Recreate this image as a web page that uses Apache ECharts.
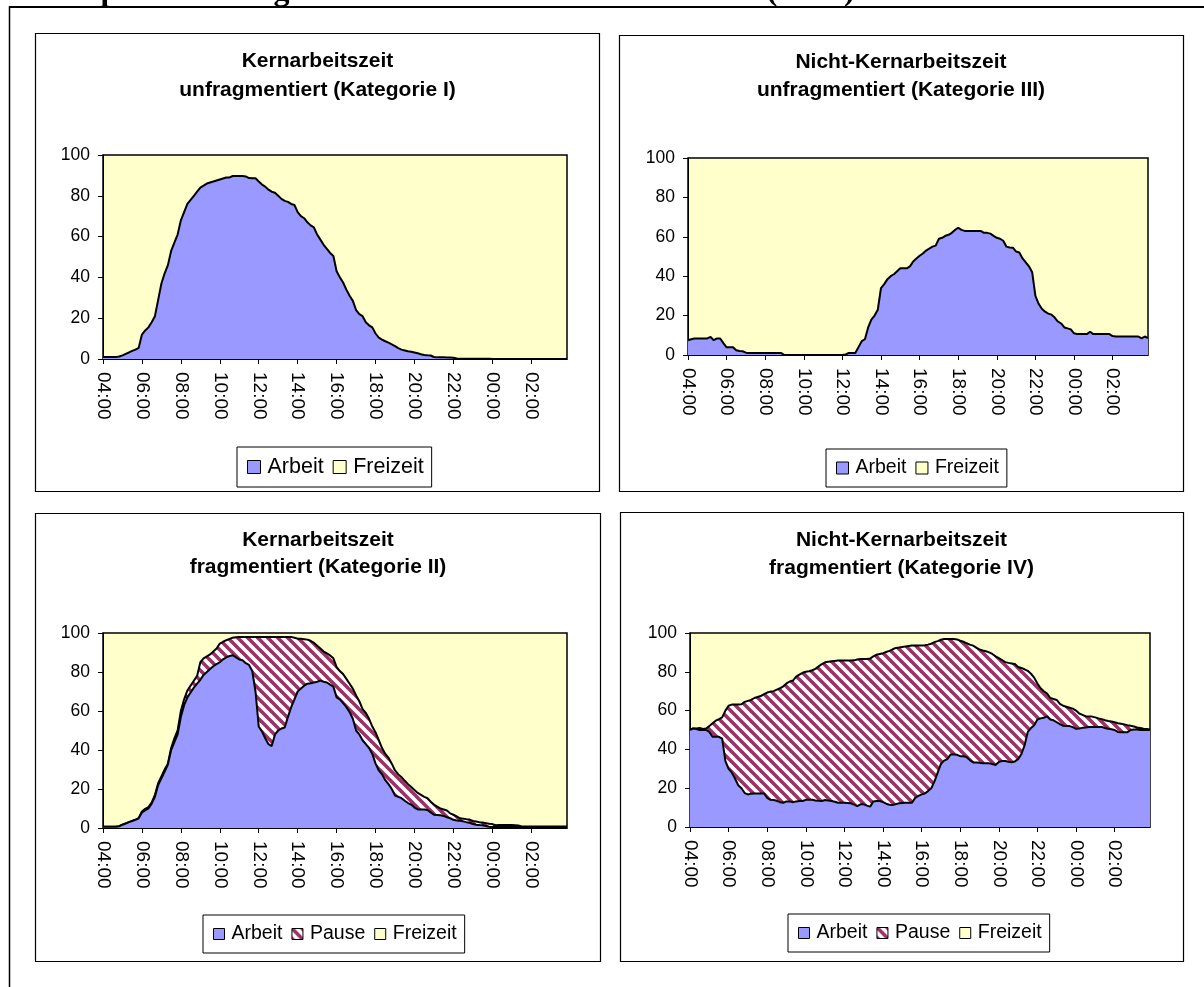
<!DOCTYPE html>
<html><head><meta charset="utf-8">
<script src="https://cdn.jsdelivr.net/npm/echarts@6/dist/echarts.min.js"></script>
<style>html,body{margin:0;padding:0;background:#fff}#c{width:1204px;height:987px}</style>
</head><body><div id="c"></div>
<script>
// ---------------- DATA (10-minute steps from 04:00 to 03:50) ----------------
const pageTitle = 'Partizipation im Tagesverlauf nach Arbeitszeitmustern (in %)';
const titleI   = ['Kernarbeitszeit', 'unfragmentiert (Kategorie I)'];
const titleIII = ['Nicht-Kernarbeitszeit', 'unfragmentiert (Kategorie III)'];
const titleII  = ['Kernarbeitszeit', 'fragmentiert (Kategorie II)'];
const titleIV  = ['Nicht-Kernarbeitszeit', 'fragmentiert (Kategorie IV)'];
const seriesNames = ['Arbeit', 'Pause', 'Freizeit'];
const yTicks = [0, 20, 40, 60, 80, 100];

const arbeitI = [
  1, 1, 1, 1, 1, 1.2, 1.8, 2.5, 3.2, 4, 4.6, 5.5,
  12, 14, 15.5, 18, 21, 29, 37, 42, 46, 53, 57, 61,
  68, 72, 76, 78, 80, 82, 84, 85, 86, 86.5, 87, 87.5,
  88, 88.5, 89, 89, 89.7, 89.7, 89.7, 89.7, 89.5, 88.7, 88.6, 88.6,
  87, 85.5, 84.5, 83, 82, 81.5, 80, 78.5, 77.5, 77, 76, 75.5,
  72, 70, 69, 67, 65.5, 64.5, 61, 58.5, 56, 54, 52, 50.5,
  43, 40, 37.5, 34, 31, 28.5, 24, 22, 21, 18, 16.5, 15.5,
  12.5, 10.5, 9.5, 8.7, 8, 7.2, 6.3, 5.3, 4.6, 4.2, 3.8, 3.6,
  3.2, 2.8, 2.3, 2, 1.8, 1.7, 1, 0.8, 0.8, 0.8, 0.7, 0.7,
  0.6, 0.2, 0.1, 0.1, 0.1, 0.1, 0.1, 0.1, 0.1, 0.1, 0.1, 0.1,
  0, 0, 0, 0, 0, 0, 0, 0, 0, 0, 0, 0,
  0, 0, 0, 0, 0, 0, 0, 0, 0, 0, 0, 0
];

const arbeitIII = [
  7.5, 8, 8.4, 8.4, 8.4, 8.4, 8.4, 9.2, 7.5, 8.4, 8.4, 6,
  3.9, 3.9, 3.9, 2.4, 2, 1.9, 1.2, 1, 1, 1, 1, 1,
  1, 1, 1, 1, 1, 1, 0, 0, 0, 0, 0, 0,
  0, 0, 0, 0, 0, 0, 0, 0, 0, 0, 0, 0,
  0, 0.3, 1, 1, 1, 4, 7, 8, 14, 18, 20, 23,
  34, 36, 38.5, 40, 41, 42.5, 44, 44, 44, 45, 47.5, 49,
  50.4, 51.5, 53, 54, 55, 55.5, 59, 59.5, 60.5, 61, 62, 63.5,
  64.6, 63.5, 63, 63, 63, 63, 63, 63, 62, 62, 61.6, 60.5,
  59.5, 59, 58, 55, 54.6, 54.5, 52.5, 52, 49, 47, 45, 42,
  30, 26, 23.5, 22, 21, 20.5, 19, 17, 16, 14, 13.5, 13,
  11, 10.6, 10.6, 10.6, 10.6, 11.8, 10.6, 10.6, 10.6, 10.6, 10.6, 10.6,
  9.6, 9.4, 9.4, 9.4, 9.4, 9.4, 9.4, 9.4, 9.4, 8.4, 9.4, 8.6
];

const arbeitII = [
  0.7, 0.7, 0.7, 0.7, 0.7, 0.9, 1.7, 2.3, 3, 3.6, 4.2, 5,
  8, 9, 10, 12.5, 16, 22, 25.5, 29, 32.5, 40, 44, 48,
  57, 63, 67, 69.5, 72, 74, 76, 78.5, 80, 81.5, 83, 84,
  85, 86.5, 87.5, 88.2, 88.6, 87.5, 86.4, 86, 84.5, 83.6, 80.5, 70,
  52, 49.5, 46, 43, 42, 48, 50, 51, 51.5, 57, 62, 66,
  70, 71.5, 73, 74, 74.2, 74.6, 75, 75.6, 75, 74.6, 73.5, 72.5,
  67, 66, 64, 62, 59.5, 56, 50, 48, 45, 43, 41, 38,
  33, 29.5, 27.5, 24.5, 22.5, 20, 16.6, 16, 15.3, 14, 12.8, 12,
  10.5, 9.5, 9.5, 9.5, 9.2, 8, 6.8, 6.7, 6.5, 6.2, 5.5, 5,
  4.2, 3.9, 3.7, 3.4, 3, 2.7, 2, 1.7, 1.5, 1.4, 1, 0.6,
  0.5, 0.5, 0.5, 0.5, 0.5, 0.5, 0.5, 0.5, 0.5, 0.5, 0.5, 0.5,
  0.5, 0.5, 0.5, 0.5, 0.5, 0.5, 0.5, 0.5, 0.5, 0.5, 0.5, 0.5
];

const pauseII = [
  0, 0, 0, 0, 0, 0, 0, 0, 0, 0, 0, 0,
  0.5, 0.8, 0.7, 0.5, 1, 1, 1, 1, 0.5, 1, 2, 2,
  3, 3, 3.5, 3.5, 3.5, 4, 9, 8.5, 8, 7.5, 7.5, 8,
  9.6, 9, 8.8, 8.8, 9, 10.3, 11.6, 12, 13.5, 14.4, 17.5, 28,
  46, 48.5, 52, 55, 56, 50, 48, 47, 46.5, 41, 36, 31.6,
  27.1, 25.5, 23.8, 22.6, 21.8, 20.4, 18.5, 16.4, 15.5, 14.9, 15, 14.5,
  15.5, 14.5, 15, 14.5, 14.5, 15.5, 18, 17, 16, 16, 15, 14,
  16, 15.5, 13.5, 13.5, 13.5, 13, 12.9, 11.5, 10.7, 10.2, 9.7, 9,
  9, 8.5, 7.5, 6.5, 6.1, 5.5, 5.2, 4.3, 3.5, 3.3, 3.5, 2.5,
  2.6, 2.1, 1.3, 1.4, 1.5, 1.6, 1.6, 1.6, 1.5, 1.4, 1.5, 1.6,
  1.5, 0.9, 1, 1, 1, 1, 1, 0.9, 0.8, 0.3, 0.3, 0.3,
  0.3, 0.3, 0.3, 0.3, 0.3, 0.3, 0.3, 0.3, 0.3, 0.3, 0.3, 0.3
];

const arbeitIV = [
  50, 50.8, 50.5, 50, 50, 50, 49, 46.5, 46.5, 46.5, 45.5, 34,
  30, 28, 25, 21.5, 20, 17.5, 16.8, 17.2, 17.3, 17.3, 17.3, 17.3,
  15, 14, 13.9, 13.5, 12.8, 12.5, 13.2, 13.2, 12.8, 13.2, 13.4, 13.4,
  14, 14, 14, 13.7, 13.5, 13.4, 13.9, 13.6, 13.4, 13, 12.5, 12.5,
  12.5, 12.4, 12.2, 11.5, 10.8, 11.7, 11.7, 11, 10.5, 13.2, 13.4, 13.4,
  12.8, 12, 11.5, 11.3, 11.8, 12.2, 12.4, 12.5, 12.5, 12.5, 15, 16,
  16.8, 17.3, 18.5, 20, 23.5, 28, 32.5, 34.2, 35, 37.4, 37.4, 37.2,
  36.5, 36.5, 36, 34.5, 33.3, 33.2, 33.1, 32.9, 32.8, 32.8, 32.5, 32,
  33.5, 34, 34, 33.6, 33.4, 33.8, 35, 37.5, 42, 49, 51, 52.5,
  55.4, 56, 56.3, 57, 55.4, 55, 54, 53, 52.2, 52, 52, 51.5,
  50.6, 50.8, 51.1, 51.3, 51.6, 51.6, 51.6, 51.6, 51.6, 51, 50.6, 50.4,
  50, 49, 48.9, 48.9, 48.9, 50, 50.3, 50.2, 50, 50, 50, 50
];

const pauseIV = [
  0.3, 0, 0.3, 1, 0.5, 0.8, 3, 7, 8.3, 9.1, 11, 26,
  32.5, 35.1, 38.1, 41.6, 43.3, 47, 48.2, 48.3, 49.2, 49.7, 50.2, 51.2,
  54.3, 55.8, 56.1, 57.3, 58.7, 60, 60.8, 61.8, 62.7, 64.3, 65.1, 66.1,
  66, 66.3, 66.8, 67.8, 69.3, 70.6, 71, 71.6, 72, 72.6, 73.3, 73.3,
  73.3, 73.4, 73.6, 74.4, 75.5, 74.9, 74.9, 75.6, 76.3, 74.8, 75.4, 75.8,
  76.8, 78.2, 79.3, 80.3, 80.5, 80.3, 80.4, 80.6, 80.8, 81, 78.5, 77.5,
  76.7, 76.4, 75.5, 74.5, 71.8, 67.8, 64, 62.7, 61.9, 59.5, 59.5, 59.5,
  59.5, 59, 58.7, 59.5, 60.2, 59.3, 58.4, 58.1, 57.8, 57.2, 56.7, 56,
  53.5, 52, 51, 51, 50.9, 50.2, 47.5, 44.5, 39.3, 31.5, 28, 24.5,
  18.6, 15.5, 13.7, 11.8, 11.1, 11, 11.5, 10.5, 10.3, 10, 9.5, 9.5,
  9.4, 7.7, 6.7, 5.8, 5.4, 5.3, 4.9, 4.4, 4, 4, 4, 4,
  4, 4.5, 4.3, 4, 3.6, 2.2, 1.5, 1.1, 1, 0.7, 0.5, 0.3
];

// category labels 04:00 ... 03:50 (10-minute steps); a label every 2 hours
const categories = [];
for (let m = 0; m < 144; m++) {
  const t = (240 + m * 10) % 1440;
  categories.push(String(Math.floor(t / 60)).padStart(2, '0') + ':' + String(t % 60).padStart(2, '0'));
}
const tickLabels = ['04:00', '06:00', '08:00', '10:00', '12:00', '14:00', '16:00', '18:00', '20:00', '22:00', '00:00', '02:00'];

// ---------------- STYLE ----------------
const COL_ARBEIT = '#9999FF';
const COL_FREI = '#FFFFCC';
const COL_PAUSE = '#993366';
const SANS = 'Arial, "Liberation Sans", sans-serif';

function stripeTile() {
  const c = document.createElement('canvas');
  c.width = 10; c.height = 10;
  const g = c.getContext('2d');
  g.fillStyle = '#ffffff'; g.fillRect(0, 0, 10, 10);
  g.strokeStyle = COL_PAUSE; g.lineWidth = 3.6;
  for (let k = -1; k <= 1; k++) {
    g.beginPath(); g.moveTo(-5, -5 + k * 10); g.lineTo(15, 15 + k * 10); g.stroke();
  }
  return c;
}
const pausePattern = { image: stripeTile(), repeat: 'repeat' };

const panels = [
  { box: [35.5, 33.5, 564, 458], grid: { left: 103, top: 155, width: 464, height: 204 }, cx: 317.5, ty: [61.7, 90.5],
    legend: { left: 237, top: 447, fs: 21.5, icon: 13, pad: [9, 8, 9, 10] }, title: titleI, arbeit: arbeitI, pause: null },
  { box: [619.5, 35.5, 564, 456], grid: { left: 688, top: 158, width: 460, height: 197 }, cx: 901, ty: [62.3, 90.6],
    legend: { left: 826, top: 449, fs: 19.5, icon: 12, pad: [9, 8, 9, 10] }, title: titleIII, arbeit: arbeitIII, pause: null },
  { box: [35.5, 513.5, 565, 448], grid: { left: 103, top: 633, width: 464, height: 195 }, cx: 318, ty: [540.5, 567.6],
    legend: { left: 203, top: 915, fs: 19.5, icon: 11, pad: [9, 8, 9, 10] }, title: titleII, arbeit: arbeitII, pause: pauseII },
  { box: [620.5, 512.5, 563, 449], grid: { left: 690, top: 633, width: 460, height: 194 }, cx: 901.5, ty: [540, 568],
    legend: { left: 788, top: 914, fs: 19.5, icon: 11, pad: [9, 8, 9, 10] }, title: titleIV, arbeit: arbeitIV, pause: pauseIV }
];

const option = {
  animation: false,
  backgroundColor: '#ffffff',
  grid: [], xAxis: [], yAxis: [], series: [], legend: [],
  graphic: [
    { type: 'text', x: 8, y: -7.8, style: { text: pageTitle, fontFamily: '"Times New Roman", "Liberation Serif", serif', fontWeight: 'bold', fontSize: 32, fill: '#000', align: 'left', verticalAlign: 'middle' } },
    { type: 'line', shape: { x1: 9, y1: 7, x2: 1204, y2: 7 }, style: { stroke: '#000', lineWidth: 2 } },
    { type: 'line', shape: { x1: 9.5, y1: 6, x2: 9.5, y2: 987 }, style: { stroke: '#000', lineWidth: 1.5 } }
  ]
};

panels.forEach((p, i) => {
  option.graphic.push({ type: 'rect', shape: { x: p.box[0], y: p.box[1], width: p.box[2], height: p.box[3] },
    style: { fill: 'none', stroke: '#000', lineWidth: 1.2 } });
  p.title.forEach((line, j) => {
    option.graphic.push({ type: 'text', x: p.cx, y: p.ty[j], style: { text: line, fontFamily: SANS, fontWeight: 'bold', fontSize: 21, fill: '#000', align: 'center', verticalAlign: 'middle' } });
  });
  option.grid.push(Object.assign({ show: true, backgroundColor: COL_FREI, borderColor: '#000', borderWidth: 1.5 }, p.grid));
  option.xAxis.push({
    type: 'category', gridIndex: i, data: categories, boundaryGap: false,
    axisLine: { lineStyle: { color: '#000', width: 1 } },
    axisTick: { length: 5, interval: (idx) => idx % 12 === 0, lineStyle: { color: '#000' } },
    axisLabel: { rotate: -90, margin: 13, interval: (idx, val) => tickLabels.indexOf(val) >= 0 && idx % 12 === 0,
      fontFamily: SANS, fontSize: 19, color: '#000' },
    splitLine: { show: false }
  });
  option.yAxis.push({
    type: 'value', gridIndex: i, min: yTicks[0], max: yTicks[yTicks.length - 1], interval: 20,
    axisLine: { show: true, lineStyle: { color: '#000', width: 1 } },
    axisTick: { show: true, length: 5, lineStyle: { color: '#000' } },
    axisLabel: { margin: 13, fontFamily: SANS, fontSize: 17.5, color: '#000' },
    splitLine: { show: false }
  });
  option.series.push({
    name: seriesNames[0], type: 'line', xAxisIndex: i, yAxisIndex: i, stack: 's' + i, z: 4,
    data: p.arbeit, symbol: 'none', showSymbol: false,
    lineStyle: { color: '#000', width: 2 }, itemStyle: { color: COL_ARBEIT },
    areaStyle: { color: COL_ARBEIT, opacity: 1 }
  });
  const legendData = [{ name: seriesNames[0], itemStyle: { color: COL_ARBEIT, borderColor: '#000', borderWidth: 1 } }];
  if (p.pause) {
    option.series.push({
      name: seriesNames[1], type: 'line', xAxisIndex: i, yAxisIndex: i, stack: 's' + i, z: 3,
      data: p.pause, symbol: 'none', showSymbol: false,
      lineStyle: { color: '#000', width: 2 }, itemStyle: { color: COL_PAUSE },
      areaStyle: { color: pausePattern, opacity: 1 }
    });
    legendData.push({ name: seriesNames[1], itemStyle: { color: pausePattern, borderColor: '#000', borderWidth: 1 } });
  }
  option.series.push({ name: seriesNames[2], type: 'line', xAxisIndex: i, yAxisIndex: i, data: [], itemStyle: { color: COL_FREI } });
  legendData.push({ name: seriesNames[2], itemStyle: { color: COL_FREI, borderColor: '#000', borderWidth: 1 } });

  option.legend.push({
    left: p.legend.left, top: p.legend.top, orient: 'horizontal',
    data: legendData, icon: 'rect', itemWidth: p.legend.icon, itemHeight: p.legend.icon, itemGap: 9,
    padding: p.legend.pad, borderColor: '#000', borderWidth: 1, backgroundColor: '#fff',
    selectedMode: false,
    textStyle: { fontFamily: SANS, fontSize: p.legend.fs, color: '#000', padding: [0, 0, 0, 2] }
  });
});

const chart = echarts.init(document.getElementById('c'), null, { renderer: 'canvas' });
chart.setOption(option);
</script>
</body></html>
